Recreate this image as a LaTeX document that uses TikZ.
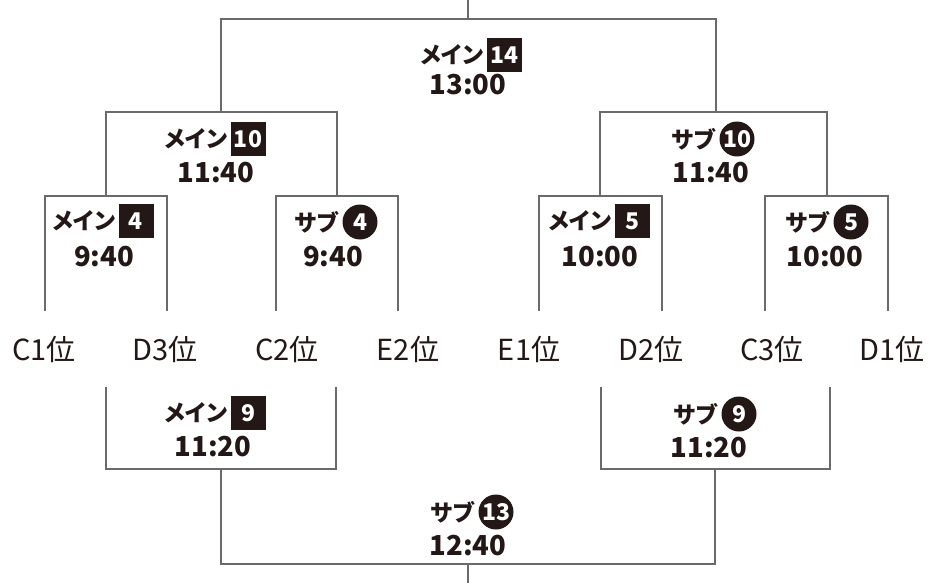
\documentclass[tikz,border=0pt]{standalone}
\usepackage{fontspec}
\setmainfont{Noto Sans CJK JP}
\newfontfamily\kanafont[RawFeature=+palt]{Noto Sans CJK JP}
\definecolor{ink}{HTML}{231815}
\definecolor{wirec}{HTML}{6A6A6A}
\tikzset{
  wire/.style={draw=wirec, line width=1.8pt},
  hdr/.style={inner sep=0pt, text=ink, font=\kanafont\fontsize{23}{23}\selectfont\bfseries, anchor=east},
  sqn/.style={fill=ink, text=white, minimum width=35pt, minimum height=34pt, inner sep=0pt, font=\fontsize{23}{23}\selectfont\bfseries},
  cin/.style={circle, fill=ink, text=white, minimum size=35pt, inner sep=0pt, font=\fontsize{23}{23}\selectfont\bfseries},
  tim/.style={inner sep=0pt, text=ink, font=\fontsize{27.5}{27.5}\selectfont\bfseries},
  seed/.style={inner sep=0pt, text=ink, font=\fontsize{29}{29}\selectfont},
}
\begin{document}
\begin{tikzpicture}[x=1pt,y=-1pt]
\useasboundingbox (0,0) rectangle (928,583);
% ---- coordinates
\coordinate (topEnd) at (468,0);
\coordinate (F) at (468,19);
\coordinate (ML) at (221,112);
\coordinate (MR) at (716,112);
\coordinate (L1) at (106,196);
\coordinate (L2) at (337,196);
\coordinate (R1) at (600,196);
\coordinate (R2) at (827,196);
\coordinate (s1) at (45,311);
\coordinate (s2) at (167,311);
\coordinate (s3) at (276,311);
\coordinate (s4) at (398,311);
\coordinate (s5) at (539,311);
\coordinate (s6) at (662,311);
\coordinate (s7) at (765,311);
\coordinate (s8) at (888,311);
\coordinate (t1) at (106,387);
\coordinate (t2) at (336,387);
\coordinate (t3) at (601,387);
\coordinate (t4) at (830,387);
\coordinate (BL) at (221,469);
\coordinate (BR) at (715,469);
\coordinate (G) at (468,564);
\coordinate (botEnd) at (468,583);
% ---- upper bracket
\draw[wire] (topEnd) -- (F);
\draw[wire] (ML) |- (F) -| (MR);
\draw[wire] (L1) |- (ML) -| (L2);
\draw[wire] (R1) |- (MR) -| (R2);
\draw[wire] (s1) |- (L1) -| (s2);
\draw[wire] (s3) |- (L2) -| (s4);
\draw[wire] (s5) |- (R1) -| (s6);
\draw[wire] (s7) |- (R2) -| (s8);
% ---- lower bracket
\draw[wire] (t1) |- (BL) -| (t2);
\draw[wire] (t3) |- (BR) -| (t4);
\draw[wire] (BL) |- (G) -| (BR);
\draw[wire] (G) -- (botEnd);
% ---- match labels
\node[sqn] (n14) at (504,55) {14};
\node[hdr] (h14) at ([xshift=-3pt]n14.west) {メイン};
\node[tim] (t14) at (468,85) {13:00};

\node[sqn] (n10m) at (248,139) {10};
\node[hdr] (h10m) at ([xshift=-3pt]n10m.west) {メイン};
\node[tim] (t10m) at (216,173) {11:40};

\node[sqn] (n4m) at (136,221) {4};
\node[hdr] (h4m) at ([xshift=-3pt]n4m.west) {メイン};
\node[tim] (t4m) at (104,257) {9:40};

\node[cin] (n4s) at (360,222) {4};
\node[hdr] (h4s) at ([xshift=-4pt]n4s.west) {サブ};
\node[tim] (t4s) at (333,257) {9:40};

\node[cin] (n10s) at (737,139) {10};
\node[hdr] (h10s) at ([xshift=-4pt]n10s.west) {サブ};
\node[tim] (t10s) at (711,173) {11:40};

\node[sqn] (n5m) at (632,221) {5};
\node[hdr] (h5m) at ([xshift=-3pt]n5m.west) {メイン};
\node[tim] (t5m) at (600,257) {10:00};

\node[cin] (n5s) at (851,222) {5};
\node[hdr] (h5s) at ([xshift=-4pt]n5s.west) {サブ};
\node[tim] (t5s) at (825,257) {10:00};

\node[sqn] (n9m) at (248,413) {9};
\node[hdr] (h9m) at ([xshift=-3pt]n9m.west) {メイン};
\node[tim] (t9m) at (213,447) {11:20};

\node[cin] (n9s) at (739,414) {9};
\node[hdr] (h9s) at ([xshift=-4pt]n9s.west) {サブ};
\node[tim] (t9s) at (709,448) {11:20};

\node[cin] (n13) at (496,512) {13};
\node[hdr] (h13) at ([xshift=-4pt]n13.west) {サブ};
\node[tim] (t13) at (468,546) {12:40};
% ---- seeds
\node[seed] (c1) at (44,349) {C1位};
\node[seed] (d3) at (165,349) {D3位};
\node[seed] (c2) at (287,349) {C2位};
\node[seed] (e2) at (408,349) {E2位};
\node[seed] (e1) at (529,349) {E1位};
\node[seed] (d2) at (651,349) {D2位};
\node[seed] (c3) at (772,349) {C3位};
\node[seed] (d1) at (892,349) {D1位};
\end{tikzpicture}
\end{document}
